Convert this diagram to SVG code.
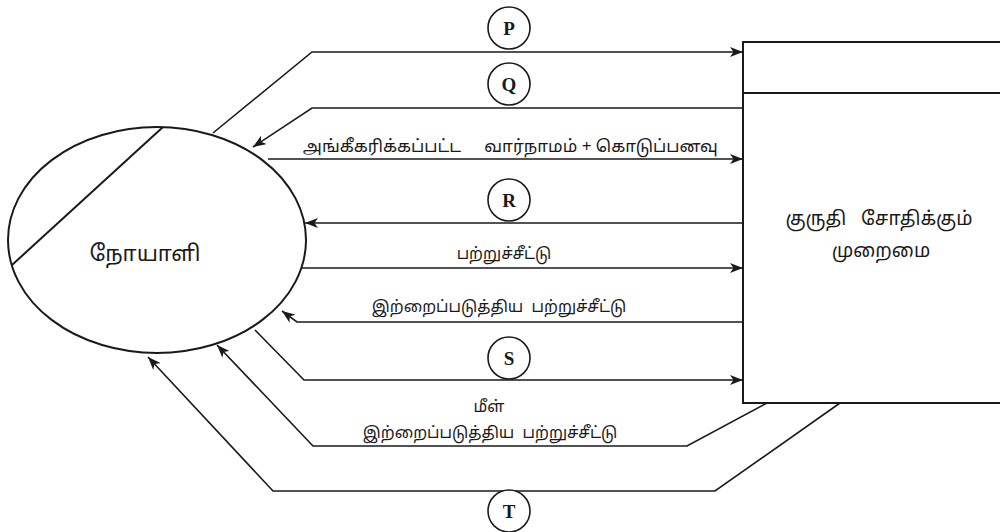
<svg xmlns="http://www.w3.org/2000/svg" width="1000" height="532" viewBox="0 0 1000 532">
  <defs>
    <marker id="arrow" markerUnits="userSpaceOnUse" markerWidth="14" markerHeight="10" refX="13" refY="5" orient="auto">
      <path d="M0,0 L13,5 L0,10 L3.5,5 Z" fill="#1a1a1a"/>
    </marker>
  </defs>
  <style>
    .line { fill: none; stroke: #1a1a1a; stroke-width: 1.6; stroke-linejoin: miter; }
    .shape { fill: #fff; stroke: #1a1a1a; stroke-width: 2; }
    .tag { fill: #fff; stroke: #1a1a1a; stroke-width: 1.6; }
    .tagtxt { font-family: "Liberation Serif", serif; font-weight: bold; font-size: 19px; fill: #1a1a1a; text-anchor: middle; }
    .lbl { font-family: "Noto Sans Tamil", "Noto Serif Tamil", "Noto Sans", sans-serif; font-size: 16px; fill: #1a1a1a; text-anchor: middle; white-space: pre; }
    .mid { font-size: 17px; }
    .box { font-size: 19px; }
    .big { font-size: 22px; }
  </style>
  <rect width="1000" height="532" fill="#fff"/>

  <!-- patient (external entity) -->
  <g id="patient">
    <ellipse class="shape" cx="157" cy="240" rx="149" ry="113"/>
    <line x1="163" y1="127" x2="12" y2="265" stroke="#1a1a1a" stroke-width="2"/>
    <text class="lbl big" x="145" y="261">நோயாளி</text>
  </g>

  <!-- blood testing system -->
  <g id="blood-test-system">
    <rect class="shape" x="743" y="42" width="280" height="361"/>
    <line x1="743" y1="93" x2="1000" y2="93" stroke="#1a1a1a" stroke-width="2"/>
    <text class="lbl box" x="879" y="225" xml:space="preserve">குருதி   சோதிக்கும்</text>
    <text class="lbl box" x="881" y="257">முறைமை</text>
  </g>

  <!-- data flows -->
  <g id="connectors">
    <polyline class="line" points="213,133 312,52 743,52" marker-end="url(#arrow)"/>
    <polyline class="line" points="743,108 312,108 253,147" marker-end="url(#arrow)"/>
    <polyline class="line" points="268,159 743,159" marker-end="url(#arrow)"/>
    <polyline class="line" points="743,223 305,223" marker-end="url(#arrow)"/>
    <polyline class="line" points="302,268 743,268" marker-end="url(#arrow)"/>
    <polyline class="line" points="743,322 297,322 282,311" marker-end="url(#arrow)"/>
    <polyline class="line" points="255,330 304,380 743,380" marker-end="url(#arrow)"/>
    <polyline class="line" points="767,403 687,446 313,446 217,345" marker-end="url(#arrow)"/>
    <polyline class="line" points="840,403 715,491 273,491 148,357" marker-end="url(#arrow)"/>
  </g>

  <!-- flow labels -->
  <g id="flow-labels">
    <text class="lbl mid" x="382" y="152">அங்கீகரிக்கப்பட்ட</text>
    <text class="lbl mid" x="601" y="152">வார்நாமம் + கொடுப்பனவு</text>
    <text class="lbl" x="504" y="259">பற்றுச்சீட்டு</text>
    <text class="lbl" x="499" y="312" xml:space="preserve">இற்றைப்படுத்திய  பற்றுச்சீட்டு</text>
    <text class="lbl" x="489" y="412">மீள்</text>
    <text class="lbl" x="490" y="438" xml:space="preserve">இற்றைப்படுத்திய  பற்றுச்சீட்டு</text>
  </g>

  <!-- flow markers -->
  <g id="tag-p"><circle class="tag" cx="509" cy="28" r="21"/><text class="tagtxt" x="509" y="35">P</text></g>
  <g id="tag-q"><circle class="tag" cx="509" cy="84" r="21"/><text class="tagtxt" x="509" y="91">Q</text></g>
  <g id="tag-r"><circle class="tag" cx="509" cy="200" r="21"/><text class="tagtxt" x="509" y="207">R</text></g>
  <g id="tag-s"><circle class="tag" cx="509" cy="358" r="21"/><text class="tagtxt" x="509" y="365">S</text></g>
  <g id="tag-t"><circle class="tag" cx="509" cy="511" r="21"/><text class="tagtxt" x="509" y="518">T</text></g>
</svg>
